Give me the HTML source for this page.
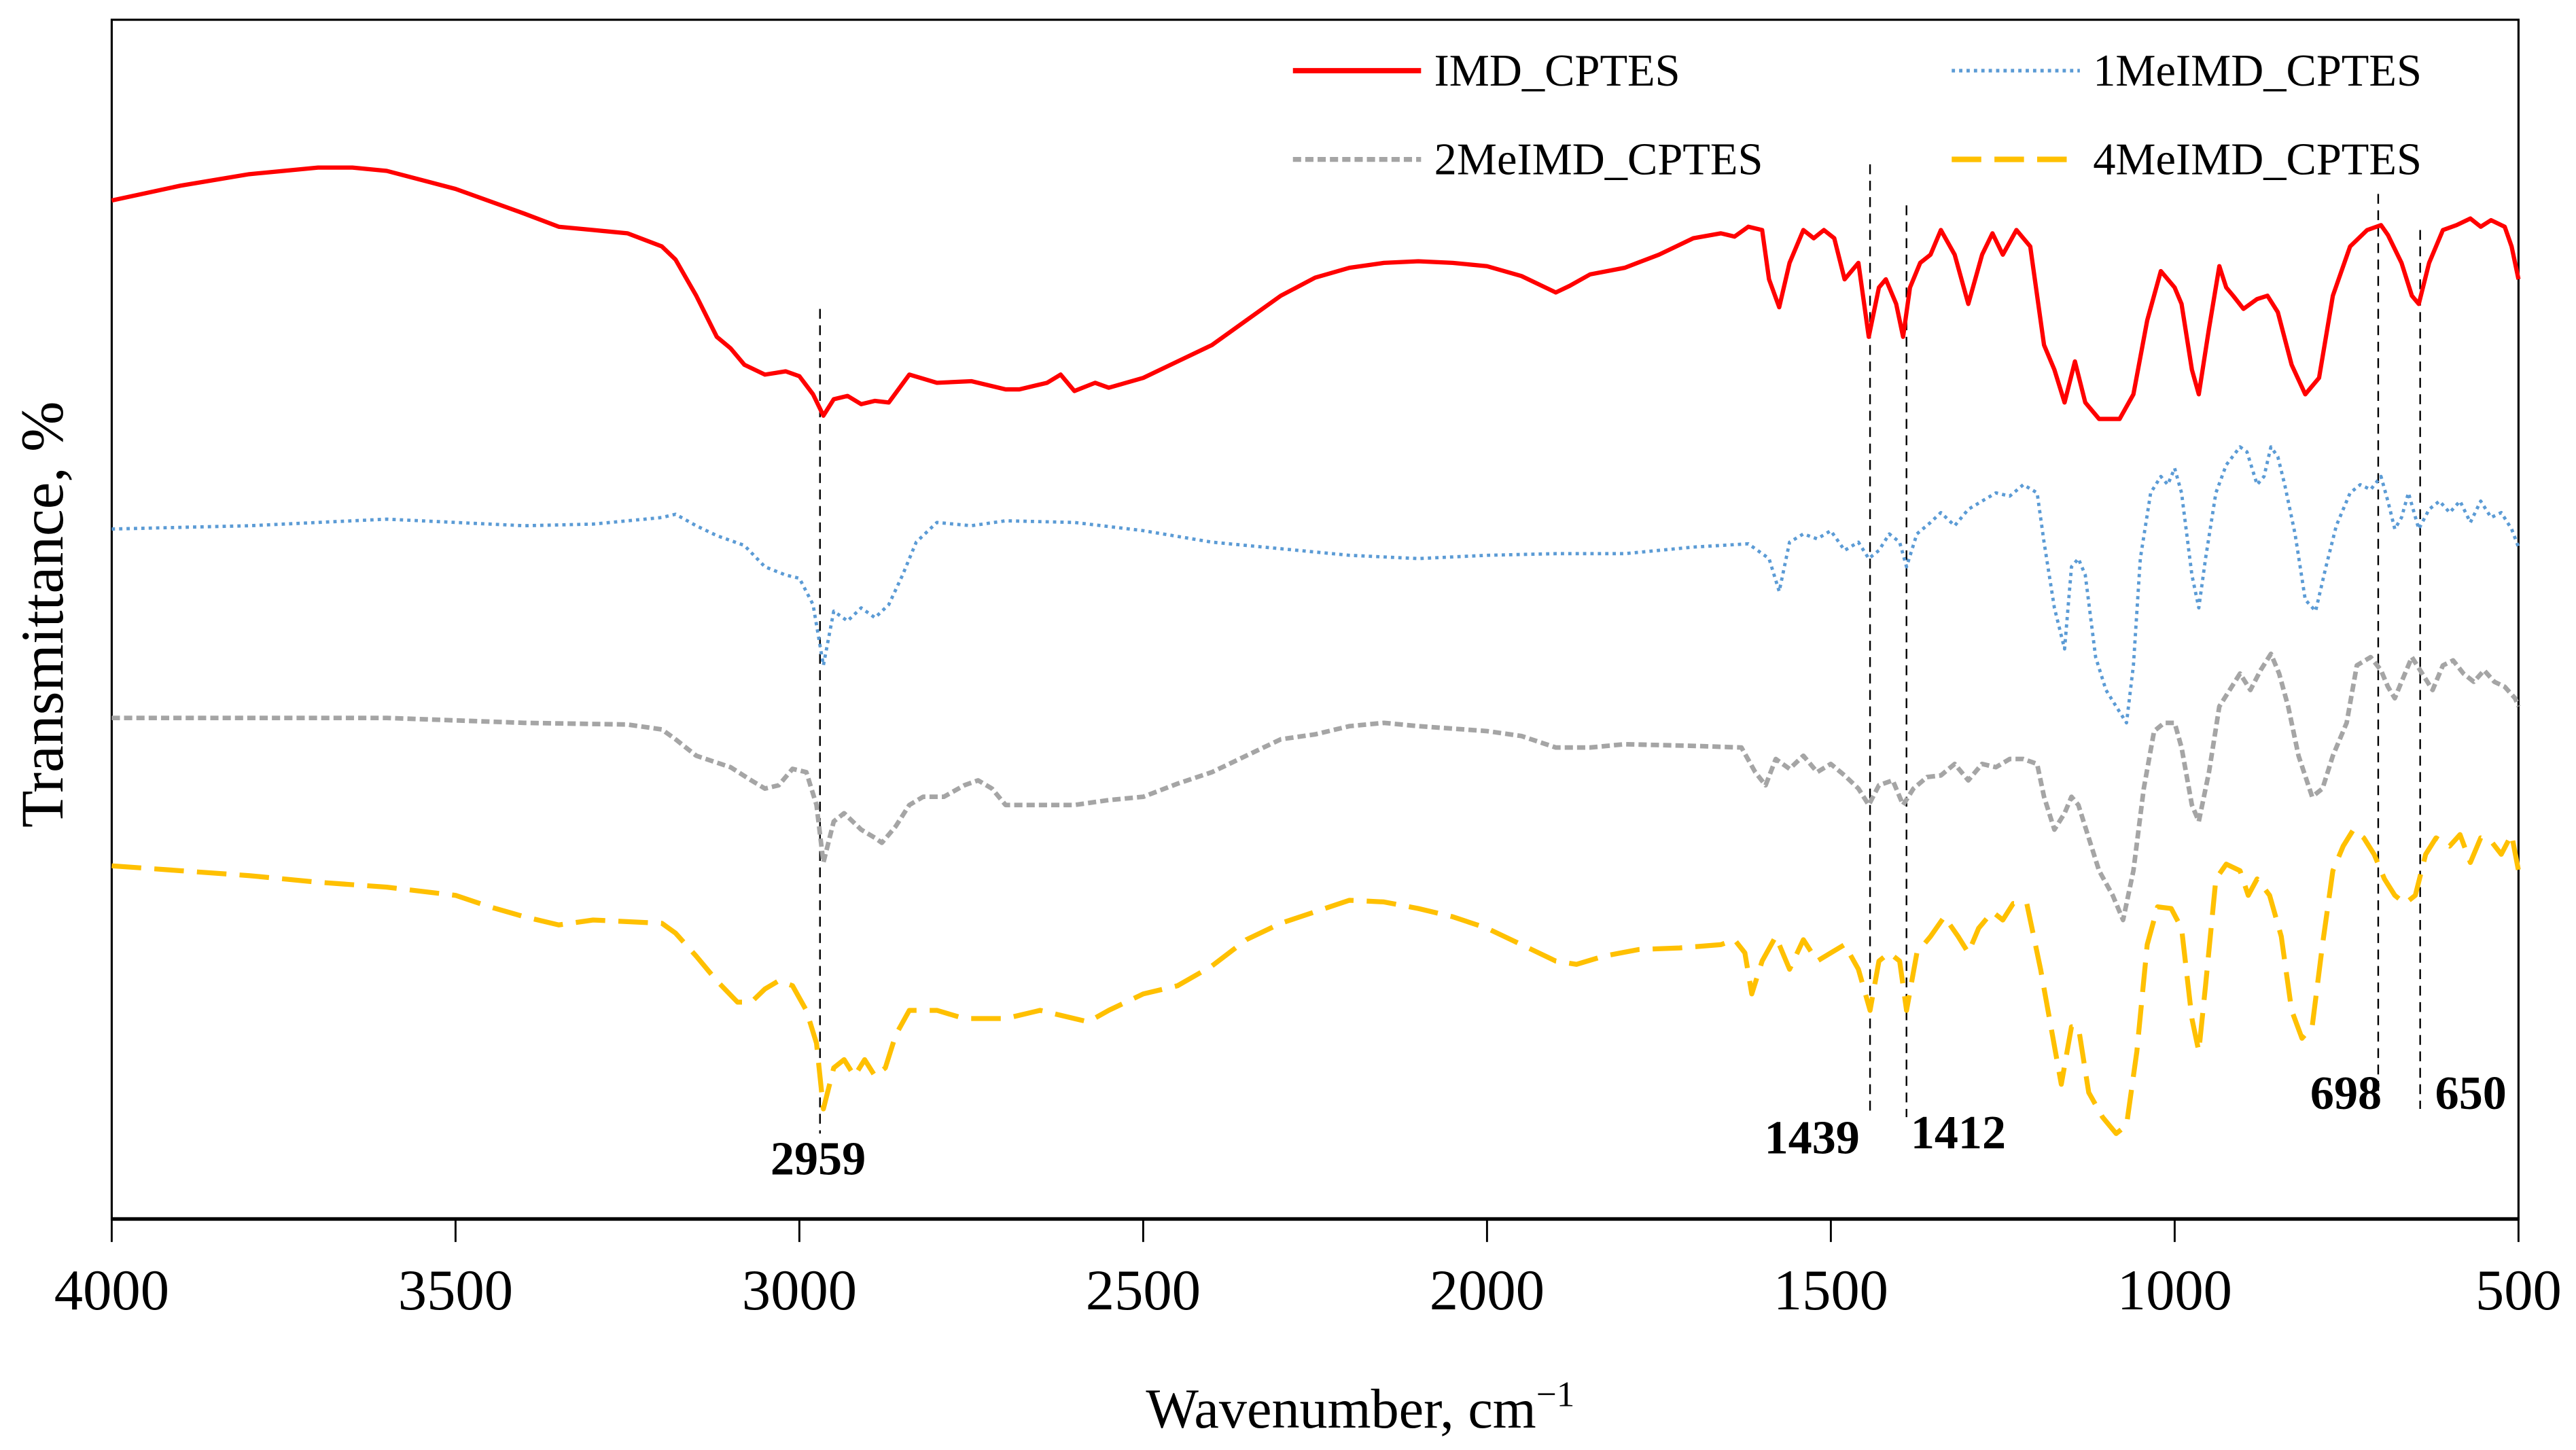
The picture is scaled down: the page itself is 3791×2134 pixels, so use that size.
<!DOCTYPE html>
<html><head><meta charset="utf-8"><style>html,body{margin:0;padding:0;background:#fff;}svg{display:block;}</style></head>
<body>
<svg id="chart" width="3791" height="2134" viewBox="0 0 1568 882.6" xmlns="http://www.w3.org/2000/svg" font-family="'Liberation Serif', serif">
<rect x="0" y="0" width="1568" height="882.6" fill="#fff"/>
<g id="plot"></g>
</svg>
<script>
// Data (wavenumber, relative transmittance in arbitrary units)
const ticks = [4000,3500,3000,2500,2000,1500,1000,500];
const refLines = [2970,1443,1390,704,643];
const peakLabels = ["2959","1439","1412","698","650"];
const imdW = [4000,3900,3800,3700,3650,3600,3500,3400,3350,3300,3250,3200,3180,3150,3120,3100,3080,3050,3020,3000,2980,2965,2950,2930,2910,2890,2870,2840,2800,2750,2700,2680,2640,2620,2600,2570,2550,2500,2450,2400,2350,2300,2250,2200,2150,2100,2050,2000,1950,1900,1880,1850,1800,1750,1700,1660,1640,1620,1600,1590,1575,1560,1540,1525,1510,1495,1480,1460,1445,1430,1420,1405,1395,1385,1370,1355,1340,1320,1300,1280,1265,1250,1230,1210,1190,1175,1160,1145,1130,1110,1080,1060,1040,1020,1000,990,975,965,950,935,925,915,900,880,865,850,830,810,790,770,745,720,700,690,670,655,645,630,610,590,570,555,540,520,510,500];
const imdT = [620,629,636,640,640,638,627,612,604,602,600,592,584,562,537,530,520,514,516,513,502,489,499,501,496,498,497,514,509,510,505,505,509,514,504,509,506,512,522,532,547,562,573,579,582,583,582,580,574,564,568,575,579,587,597,600,598,604,602,572,555,582,602,597,602,597,572,582,537,567,572,557,537,567,582,587,602,587,557,587,600,587,602,592,532,517,497,522,497,487,487,502,547,577,567,557,517,502,542,580,567,562,554,560,562,552,520,502,512,562,592,602,605,599,582,562,557,582,602,605,609,604,608,604,592,572];
const me1W = [4000,3800,3600,3400,3300,3200,3180,3150,3120,3080,3050,3020,3000,2980,2965,2950,2930,2910,2890,2870,2850,2830,2800,2750,2700,2600,2500,2400,2300,2200,2100,2000,1900,1800,1700,1620,1590,1575,1560,1540,1520,1500,1480,1460,1445,1430,1415,1400,1390,1375,1355,1340,1320,1300,1280,1260,1240,1220,1200,1190,1175,1160,1150,1140,1130,1115,1100,1085,1070,1060,1050,1035,1020,1010,1000,990,975,965,955,940,925,905,895,880,870,860,850,840,825,810,795,780,765,745,730,715,700,690,680,670,660,645,630,615,600,585,570,555,540,525,510,500];
const me1T = [420,422,426,422,423,427,429,422,416,410,397,392,390,374,337,370,364,372,366,374,392,412,424,422,425,424,419,412,408,404,402,404,405,405,409,411,402,382,412,417,414,419,407,412,402,407,417,412,397,417,424,430,422,432,437,442,440,447,442,412,372,347,397,402,392,342,322,312,302,337,402,442,452,447,457,442,392,372,402,442,459,470,467,447,452,470,464,447,417,377,370,397,422,442,447,444,452,437,420,427,442,420,432,437,430,437,424,437,427,430,420,409];
const me2W = [4000,3800,3600,3400,3250,3200,3180,3150,3100,3070,3050,3030,3010,2990,2975,2965,2950,2935,2910,2890,2880,2860,2840,2820,2790,2760,2740,2720,2700,2650,2600,2550,2500,2450,2400,2350,2300,2250,2200,2150,2100,2000,1950,1900,1850,1800,1700,1630,1610,1595,1580,1560,1540,1520,1500,1480,1460,1445,1430,1410,1395,1380,1360,1340,1320,1300,1280,1260,1240,1220,1200,1190,1175,1160,1150,1140,1125,1110,1090,1075,1060,1045,1030,1015,1000,990,975,965,950,935,920,905,890,875,860,848,835,820,800,785,770,750,735,715,700,690,680,670,655,640,625,610,595,580,565,550,535,520,505,500];
const me2T = [305,305,305,302,301,298,292,282,275,267,262,264,274,272,252,217,242,247,237,232,229,239,252,257,257,264,267,262,252,252,252,255,257,265,272,282,292,295,300,302,300,297,294,287,287,289,288,287,272,264,280,274,282,272,277,270,262,252,264,267,252,262,269,270,277,267,277,275,280,280,277,257,237,247,257,252,232,212,197,182,212,262,297,302,302,287,252,242,272,312,322,332,322,334,344,332,312,282,257,262,282,302,337,342,334,324,317,327,342,332,322,337,340,332,327,334,327,324,317,312];
const me4W = [4000,3900,3800,3700,3600,3500,3450,3400,3350,3300,3200,3180,3150,3120,3090,3070,3050,3030,3010,2990,2975,2965,2950,2935,2920,2905,2890,2875,2860,2840,2800,2760,2700,2650,2600,2580,2550,2500,2450,2400,2350,2300,2250,2200,2150,2100,2050,2000,1950,1900,1870,1830,1780,1720,1660,1640,1625,1615,1600,1580,1560,1540,1520,1500,1480,1460,1443,1430,1415,1400,1390,1375,1355,1335,1315,1300,1285,1265,1250,1235,1215,1195,1180,1165,1150,1140,1125,1105,1085,1070,1055,1040,1025,1005,990,975,965,955,940,925,905,893,880,862,845,830,815,800,785,770,755,740,725,710,695,680,665,650,635,620,600,585,570,555,540,525,510,500];
const me4T = [215,212,209,205,202,197,190,184,179,182,180,174,160,145,132,132,140,145,142,127,107,67,92,97,87,97,87,92,112,127,127,122,122,127,122,120,127,137,142,154,170,180,187,194,193,189,184,177,167,157,155,160,164,165,167,170,162,137,157,172,152,170,157,162,167,152,127,157,162,157,127,162,172,184,172,162,177,187,182,192,192,152,117,82,117,117,77,62,52,57,102,167,190,189,177,122,102,142,207,216,212,197,207,197,172,127,110,117,167,212,227,237,232,222,207,197,192,197,222,232,227,234,217,232,230,222,234,212];

const NS='http://www.w3.org/2000/svg';
const L=68,R=1533,T=12,B=742;
const xS=w=>L+(4000-w)/3500*(R-L);
const yS=v=>B-v;
const g=document.getElementById('plot');
function mk(tag,attrs,parent){const e=document.createElementNS(NS,tag);for(const k in attrs)e.setAttribute(k,attrs[k]);(parent||g).appendChild(e);return e;}

const frame=mk('rect',{x:L,y:T,width:R-L,height:B-T,fill:'none',stroke:'#000','stroke-width':1.3});


const xaxis=mk('line',{x1:L,y1:B,x2:R,y2:B,stroke:'#000','stroke-width':2.2});


ticks.forEach(t=>{
  const tk=mk('line',{x1:xS(t),y1:B,x2:xS(t),y2:B+14,stroke:'#000','stroke-width':1.2});
  
  
  const tl=mk('text',{x:xS(t),y:797,'text-anchor':'middle','font-size':35,fill:'#000'});
  tl.textContent=t;
  
  
});
const xt=mk('text',{x:828,y:869,'text-anchor':'middle','font-size':34,fill:'#000'});
xt.innerHTML='Wavenumber, cm<tspan dy="-13" font-size="22">−1</tspan>';


const yt=mk('text',{x:0,y:0,'text-anchor':'middle','font-size':37,fill:'#000',transform:'translate(38,374) rotate(-90)'});
yt.textContent='Transmittance, %';



const refTop=[188,100,125,118,140], refBot=[690,680,680,672,675];
const labX=[498,1103,1192,1428,1504], labY=[715,702,699,675,675];
refLines.forEach((w,i)=>{
  const l=mk('line',{x1:xS(w),y1:refTop[i],x2:xS(w),y2:refBot[i],stroke:'#000','stroke-width':1,'stroke-dasharray':'6 4'});
  
  
  const t=mk('text',{x:labX[i],y:labY[i],'text-anchor':'middle','font-size':29,'font-weight':'bold',fill:'#000'});
  t.textContent=peakLabels[i];
  
  
});

function series(W,Tv,color,width,dash,name){
  const d=W.map((w,i)=>(i?'L':'M')+xS(w).toFixed(1)+' '+yS(Tv[i]).toFixed(1)).join(' ');
  const p=mk('path',{d:d,fill:'none',stroke:color,'stroke-width':width,'stroke-linejoin':'round'});
  if(dash)p.setAttribute('stroke-dasharray',dash);
  
  
}
series(imdW,imdT,'#ff0000',2.6,null,'series-imd-cptes');
series(me1W,me1T,'#5b9bd5',2,'2 2.5','series-1meimd-cptes');
series(me2W,me2T,'#a5a5a5',2.8,'5 2.5','series-2meimd-cptes');
series(me4W,me4T,'#ffc000',3,'18 8','series-4meimd-cptes');

const leg=[['IMD_CPTES','#ff0000',3.2,null,787,43],['1MeIMD_CPTES','#5b9bd5',2.2,'2 2.5',1188,43],['2MeIMD_CPTES','#a5a5a5',3,'5 2.5',787,97],['4MeIMD_CPTES','#ffc000',3.4,'18 8',1188,97]];
leg.forEach(e=>{
  const s=mk('line',{x1:e[4],y1:e[5],x2:e[4]+78,y2:e[5],stroke:e[1],'stroke-width':e[2]});
  if(e[3])s.setAttribute('stroke-dasharray',e[3]);
  
  
  const t=mk('text',{x:e[4]+86,y:e[5]+9,'font-size':27.5,fill:'#000'});
  t.textContent=e[0];
  
  
});
</script>
</body></html>
